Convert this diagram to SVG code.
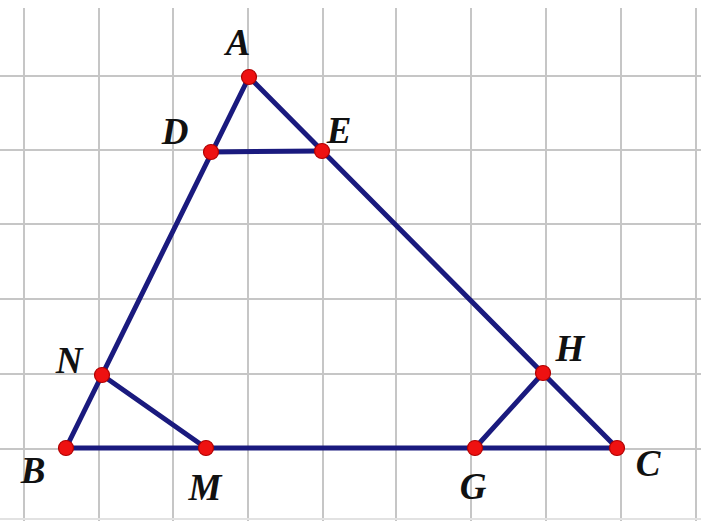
<svg xmlns="http://www.w3.org/2000/svg" width="701" height="521" viewBox="0 0 701 521">
<style>
.grid line{stroke:#c6c6c6;stroke-width:2}
.seg{stroke:#1a1a7e;stroke-width:5;stroke-linecap:round;fill:none}
.pt{fill:#ee1111;stroke:#b00000;stroke-width:1.2}
.lbl{font-family:"Liberation Serif",serif;font-weight:bold;font-style:italic;font-size:37px;fill:#111}
</style>
<rect width="701" height="521" fill="#fff"/>
<g class="grid">
<line x1="24" y1="8" x2="24" y2="521"/>
<line x1="99" y1="8" x2="99" y2="521"/>
<line x1="173" y1="8" x2="173" y2="521"/>
<line x1="248" y1="8" x2="248" y2="521"/>
<line x1="323" y1="8" x2="323" y2="521"/>
<line x1="396" y1="8" x2="396" y2="521"/>
<line x1="471" y1="8" x2="471" y2="521"/>
<line x1="546" y1="8" x2="546" y2="521"/>
<line x1="621" y1="8" x2="621" y2="521"/>
<line x1="696" y1="8" x2="696" y2="521"/>
<line x1="0" y1="76" x2="701" y2="76"/>
<line x1="0" y1="150" x2="701" y2="150"/>
<line x1="0" y1="224" x2="701" y2="224"/>
<line x1="0" y1="299" x2="701" y2="299"/>
<line x1="0" y1="374" x2="701" y2="374"/>
<line x1="0" y1="449" x2="701" y2="449"/>
<line x1="0" y1="519" x2="701" y2="519" style="stroke:#e2e2e2"/>
</g>
<g id="connectors">
<line class="seg" x1="249" y1="77" x2="66" y2="448"/>
<line class="seg" x1="249" y1="77" x2="617" y2="448"/>
<line class="seg" x1="66" y1="448" x2="617" y2="448"/>
<line class="seg" x1="211" y1="152" x2="322" y2="151"/>
<line class="seg" x1="102" y1="375" x2="206" y2="448"/>
<line class="seg" x1="475" y1="448" x2="543" y2="373"/>
</g>
<g id="A"><circle class="pt" cx="249" cy="77" r="7.5"/><text class="lbl" x="238" y="55" text-anchor="middle">A</text></g>
<g id="D"><circle class="pt" cx="211" cy="152" r="7.5"/><text class="lbl" x="175" y="144" text-anchor="middle">D</text></g>
<g id="E"><circle class="pt" cx="322" cy="151" r="7.5"/><text class="lbl" x="339" y="143" text-anchor="middle">E</text></g>
<g id="N"><circle class="pt" cx="102" cy="375" r="7.5"/><text class="lbl" x="69" y="373" text-anchor="middle">N</text></g>
<g id="B"><circle class="pt" cx="66" cy="448" r="7.5"/><text class="lbl" x="33" y="483" text-anchor="middle">B</text></g>
<g id="M"><circle class="pt" cx="206" cy="448" r="7.5"/><text class="lbl" x="205" y="500" text-anchor="middle">M</text></g>
<g id="G"><circle class="pt" cx="475" cy="448" r="7.5"/><text class="lbl" x="473" y="499" text-anchor="middle">G</text></g>
<g id="H"><circle class="pt" cx="543" cy="373" r="7.5"/><text class="lbl" x="570" y="361" text-anchor="middle">H</text></g>
<g id="C"><circle class="pt" cx="617" cy="448" r="7.5"/><text class="lbl" x="648" y="476" text-anchor="middle">C</text></g>
</svg>
